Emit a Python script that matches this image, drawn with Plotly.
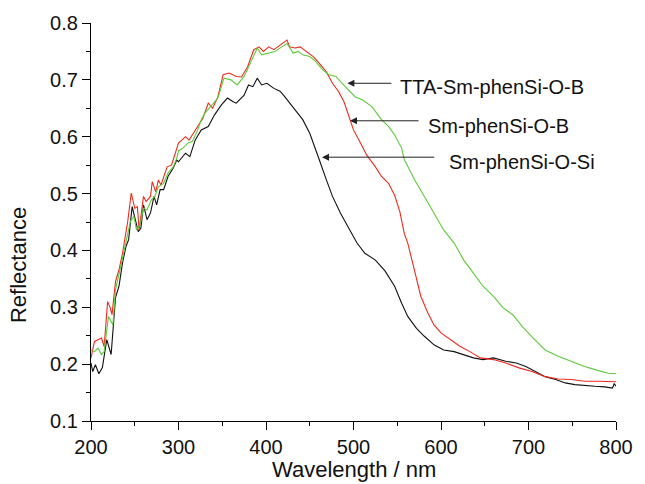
import plotly.graph_objects as go

# Sm-phenSi-O-Si (black)
si_x = [200, 202, 205, 209, 213, 218, 223, 228, 232, 236, 240, 243, 247, 251, 254, 257, 260, 264, 268, 272,
        275, 279, 283, 288, 294, 298, 300, 308, 313, 319, 326, 334, 341, 349, 356, 362, 366, 375, 380, 385,
        390, 395, 401, 409, 416, 420, 427, 435, 442, 450, 455, 461, 469, 476, 485, 495, 504, 513, 525, 536,
        547, 555, 562, 572, 581, 592, 603, 615, 626, 637, 648, 660, 674, 686, 697, 708, 719, 731, 742, 753,
        764, 776, 787, 796, 798, 800]
si_y = [0.202, 0.187, 0.199, 0.183, 0.194, 0.243, 0.217, 0.317, 0.337, 0.378, 0.407, 0.419, 0.477, 0.451, 0.433,
        0.439, 0.480, 0.454, 0.466, 0.495, 0.480, 0.507, 0.507, 0.530, 0.545, 0.559, 0.556, 0.571, 0.565, 0.594,
        0.612, 0.618, 0.638, 0.656, 0.668, 0.662, 0.659, 0.673, 0.691, 0.688, 0.703, 0.691, 0.694, 0.685, 0.680,
        0.673, 0.659, 0.644, 0.630, 0.606, 0.583, 0.559, 0.524, 0.495, 0.466, 0.439, 0.413, 0.395, 0.383, 0.364,
        0.337, 0.307, 0.284, 0.263, 0.249, 0.234, 0.225, 0.222, 0.217, 0.211, 0.208, 0.211, 0.205, 0.202, 0.196,
        0.187, 0.178, 0.173, 0.167, 0.164, 0.162, 0.161, 0.160, 0.158, 0.166, 0.161]

# Sm-phenSi-O-B (red)
b_x = [200, 204, 208, 212, 215, 219, 222, 224, 228, 232, 236, 242, 246, 250, 253, 255, 260, 263, 268, 270,
       274, 277, 280, 287, 292, 296, 300, 308, 312, 317, 322, 328, 334, 339, 345, 351, 358, 366, 372, 379,
       386, 392, 397, 403, 409, 416, 420, 424, 427, 433, 439, 446, 454, 461, 469, 476, 483, 489, 495, 500,
       508, 515, 525, 532, 540, 547, 553, 558, 562, 570, 577, 585, 592, 600, 611, 622, 633, 645, 660, 674,
       690, 704, 719, 734, 749, 764, 779, 800]
b_y = [0.211, 0.240, 0.243, 0.246, 0.231, 0.310, 0.299, 0.287, 0.345, 0.366, 0.395, 0.451, 0.501, 0.474, 0.477,
       0.436, 0.495, 0.486, 0.495, 0.521, 0.503, 0.524, 0.515, 0.547, 0.550, 0.571, 0.589, 0.600, 0.594, 0.606,
       0.618, 0.633, 0.659, 0.650, 0.670, 0.709, 0.712, 0.706, 0.705, 0.723, 0.753, 0.758, 0.750, 0.758, 0.753,
       0.761, 0.767, 0.770, 0.758, 0.756, 0.758, 0.750, 0.741, 0.729, 0.714, 0.694, 0.679, 0.662, 0.633, 0.612,
       0.589, 0.568, 0.547, 0.530, 0.518, 0.497, 0.468, 0.430, 0.413, 0.360, 0.319, 0.290, 0.269, 0.255, 0.243,
       0.231, 0.222, 0.211, 0.208, 0.202, 0.193, 0.187, 0.178, 0.174, 0.173, 0.170, 0.170, 0.169]

# TTA-Sm-phenSi-O-B (green)
t_x = [200, 204, 208, 212, 215, 220, 225, 228, 234, 240, 245, 249, 252, 256, 260, 264, 269, 273, 277, 283,
       288, 294, 298, 300, 305, 311, 316, 322, 326, 330, 337, 345, 352, 360, 367, 375, 382, 390, 395, 403,
       410, 418, 424, 431, 437, 442, 450, 457, 465, 472, 480, 487, 495, 502, 510, 521, 532, 540, 547, 555,
       558, 570, 581, 592, 603, 615, 626, 637, 648, 660, 671, 682, 693, 704, 719, 734, 749, 764, 779, 791, 800]
t_y = [0.225, 0.222, 0.228, 0.217, 0.222, 0.284, 0.269, 0.331, 0.372, 0.413, 0.451, 0.460, 0.436, 0.445, 0.474,
       0.471, 0.489, 0.495, 0.512, 0.518, 0.536, 0.547, 0.562, 0.575, 0.580, 0.589, 0.592, 0.612, 0.630, 0.641,
       0.653, 0.668, 0.703, 0.700, 0.691, 0.706, 0.729, 0.756, 0.744, 0.747, 0.750, 0.758, 0.764, 0.747, 0.750,
       0.744, 0.741, 0.732, 0.717, 0.709, 0.706, 0.694, 0.682, 0.670, 0.665, 0.653, 0.630, 0.618, 0.603, 0.580,
       0.560, 0.524, 0.495, 0.466, 0.436, 0.413, 0.383, 0.360, 0.337, 0.319, 0.299, 0.287, 0.266, 0.248, 0.225,
       0.214, 0.205, 0.196, 0.189, 0.184, 0.183]

labels = ["TTA-Sm-phenSi-O-B", "Sm-phenSi-O-B", "Sm-phenSi-O-Si"]
label_x = [551, 583, 607]
label_y = [0.6875, 0.6186, 0.555]
arrow_tip_x = [493, 496, 464]
arrow_tip_y = [0.694, 0.628, 0.564]
arrow_tail_x = [545, 576, 594]

FONT = "Liberation Sans, Arial, Helvetica, sans-serif"

fig = go.Figure()
fig.add_trace(go.Scatter(x=si_x, y=si_y, mode="lines", line=dict(color="#111111", width=1.1),
                         name="Sm-phenSi-O-Si"))
fig.add_trace(go.Scatter(x=b_x, y=b_y, mode="lines", line=dict(color="#ee2a1c", width=1.1),
                         name="Sm-phenSi-O-B"))
fig.add_trace(go.Scatter(x=t_x, y=t_y, mode="lines", line=dict(color="#5ccb3a", width=1.1),
                         name="TTA-Sm-phenSi-O-B"))

for i in range(3):
    fig.add_annotation(x=arrow_tip_x[i], y=arrow_tip_y[i], ax=arrow_tail_x[i], ay=arrow_tip_y[i],
                       xref="x", yref="y", axref="x", ayref="y", text="", showarrow=True,
                       arrowhead=2, arrowsize=1.4, arrowwidth=1, arrowcolor="#222222")
    fig.add_annotation(x=label_x[i], y=label_y[i], xref="x", yref="y", text=labels[i], showarrow=False,
                       xanchor="left", yanchor="middle", font=dict(family=FONT, size=20, color="#111111"))

fig.add_annotation(x=0.5, y=-0.085, xref="paper", yref="paper", text="Wavelength / nm", showarrow=False,
                   xanchor="center", yanchor="top", font=dict(family=FONT, size=22, color="#111111"))
fig.add_annotation(x=-0.137, y=0.392, xref="paper", yref="paper", text="Reflectance", showarrow=False,
                   textangle=-90, xanchor="center", yanchor="middle",
                   font=dict(family=FONT, size=22, color="#111111"))

fig.update_layout(
    width=645, height=484,
    margin=dict(l=91, r=20, t=23, b=63),
    paper_bgcolor="white", plot_bgcolor="white",
    showlegend=False,
    font=dict(family=FONT, size=20, color="#111111"),
)
fig.update_xaxes(range=[200, 800], tickvals=[200, 300, 400, 500, 600, 700, 800],
                 showline=True, linecolor="black", linewidth=1.3, mirror=False,
                 ticks="outside", ticklen=8, tickwidth=1.2, tickcolor="black",
                 minor=dict(tickvals=[250, 350, 450, 550, 650, 750], ticks="outside", ticklen=4,
                            tickwidth=1.2, tickcolor="black"),
                 showgrid=False, zeroline=False, tickfont=dict(family=FONT, size=20))
fig.update_yaxes(range=[0.1, 0.8], tickvals=[0.1, 0.2, 0.3, 0.4, 0.5, 0.6, 0.7, 0.8],
                 ticktext=["0.1", "0.2", "0.3", "0.4", "0.5", "0.6", "0.7", "0.8"],
                 showline=True, linecolor="black", linewidth=1.3, mirror=False,
                 ticks="outside", ticklen=8, tickwidth=1.2, tickcolor="black",
                 minor=dict(tickvals=[0.15, 0.25, 0.35, 0.45, 0.55, 0.65, 0.75], ticks="outside",
                            ticklen=4, tickwidth=1.2, tickcolor="black"),
                 showgrid=False, zeroline=False, tickfont=dict(family=FONT, size=20))

fig.write_html("out.html")
